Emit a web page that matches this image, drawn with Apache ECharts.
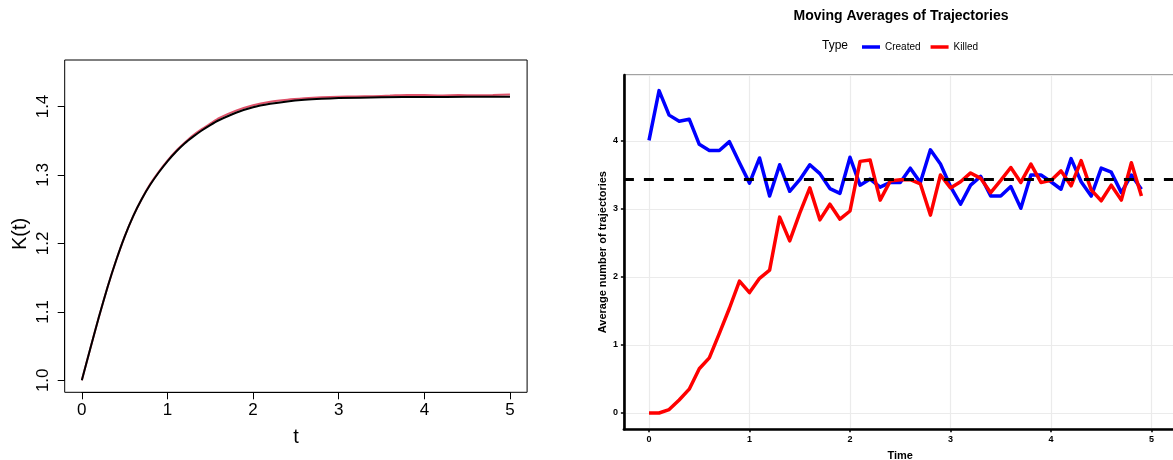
<!DOCTYPE html>
<html>
<head>
<meta charset="utf-8">
<script src="https://cdn.jsdelivr.net/npm/echarts@6/dist/echarts.min.js"></script>
<style>
html,body{margin:0;padding:0;background:#fff;}
#chart{width:1173px;height:460px;}
</style>
</head>
<body>
<div id="chart"></div>
<script>
// ---------- Left panel: K(t) ----------
const kTime = [0,0.1,0.2,0.3,0.4,0.5,0.6,0.7,0.8,0.9,1.0,1.1,1.2,1.3,1.4,1.5,1.6,1.8,2.0,2.2,2.4,2.6,2.8,3.0,3.5,4.0,4.5,5.0];
const kTheory = [1.000,1.047,1.093,1.136,1.175,1.210,1.240,1.265,1.286,1.304,1.320,1.334,1.346,1.356,1.365,1.373,1.380,1.391,1.399,1.404,1.4075,1.4098,1.4113,1.4123,1.4136,1.4140,1.4142,1.4142];
const kTimeEmp = [0,0.1,0.2,0.3,0.4,0.5,0.6,0.7,0.8,0.9,1.0,1.1,1.2,1.3,1.4,1.5,1.6,1.8,2.0,2.2,2.4,2.6,2.8,3.0,3.2,3.4,3.6,3.8,4.0,4.2,4.4,4.6,4.8,5.0];
const kEmpirical = [1.000,1.047,1.093,1.136,1.175,1.210,1.240,1.265,1.287,1.305,1.321,1.335,1.347,1.358,1.367,1.375,1.383,1.394,1.402,1.407,1.410,1.412,1.4135,1.4143,1.4148,1.4152,1.4160,1.4170,1.4168,1.4163,1.4167,1.4166,1.4170,1.4177];
const kXTicks = [0,1,2,3,4,5];
const kYTicks = [1.0,1.1,1.2,1.3,1.4];

// ---------- Right panel: moving averages ----------
const time = [0,0.1,0.2,0.3,0.4,0.5,0.6,0.7,0.8,0.9,1.0,1.1,1.2,1.3,1.4,1.5,1.6,1.7,1.8,1.9,2.0,2.1,2.2,2.3,2.4,2.5,2.6,2.7,2.8,2.9,3.0,3.1,3.2,3.3,3.4,3.5,3.6,3.7,3.8,3.9,4.0,4.1,4.2,4.3,4.4,4.5,4.6,4.7,4.8,4.9];
const created = [4.01,4.74,4.38,4.29,4.32,3.95,3.86,3.86,3.99,3.68,3.38,3.75,3.19,3.65,3.26,3.43,3.65,3.52,3.30,3.23,3.76,3.35,3.44,3.32,3.39,3.39,3.60,3.39,3.87,3.66,3.33,3.07,3.35,3.48,3.19,3.19,3.33,3.01,3.50,3.50,3.40,3.29,3.74,3.40,3.19,3.60,3.54,3.24,3.50,3.29];
const killed = [0.00,0.00,0.05,0.19,0.35,0.65,0.81,1.17,1.54,1.94,1.77,1.98,2.10,2.88,2.53,2.94,3.31,2.84,3.07,2.85,2.97,3.70,3.72,3.13,3.41,3.43,3.43,3.37,2.91,3.50,3.31,3.40,3.53,3.45,3.24,3.42,3.61,3.39,3.66,3.39,3.42,3.56,3.34,3.71,3.28,3.12,3.35,3.13,3.68,3.19];
const refLevel = 3.43;
const seriesNames = ['Created','Killed'];
const chartTitle = 'Moving Averages of Trajectories';

const FONT = '"Liberation Sans", Arial, Helvetica, sans-serif';
const zip = (xs, ys) => xs.map((x, i) => [x, ys[i]]);

const chart = echarts.init(document.getElementById('chart'), null, {renderer: 'canvas'});

const hiddenAxis = (gi, min, max) => ({gridIndex: gi, type: 'value', min, max, show: false});
const G = o => Object.assign({outerBoundsMode: 'none', containLabel: false}, o);

const option = {
  animation: false,
  textStyle: {fontFamily: FONT},
  grid: [
    G({left: 64.7, top: 60, width: 462.4, height: 332.3, show: true, borderColor: '#000', borderWidth: 1, backgroundColor: 'transparent'}),
    G({left: 81.8, top: 60, width: 428.2, height: 332.3}),
    G({left: 64.7, top: 106.5, width: 462.4, height: 273.8}),
    G({left: 623.9, top: 75, width: 552.7, height: 354.3, show: true, borderColor: '#444', borderWidth: 1, backgroundColor: 'transparent'}),
    G({left: 649, top: 75, width: 502.5, height: 354.3}),
    G({left: 623.9, top: 141, width: 552.7, height: 272})
  ],
  xAxis: [
    hiddenAxis(0, -0.2, 5.2),
    {gridIndex: 1, type: 'value', min: kXTicks[0], max: kXTicks[kXTicks.length - 1], interval: 1,
      axisLine: {show: true, onZero: false, lineStyle: {color: '#000', width: 1}},
      axisTick: {show: true, inside: false, length: 7, lineStyle: {color: '#000', width: 1}},
      axisLabel: {show: true, fontSize: 17, color: '#000', margin: 10},
      splitLine: {show: false}},
    hiddenAxis(2, -0.2, 5.2),
    {gridIndex: 3, type: 'value', min: -0.25, max: 5.25, minInterval: 1, maxInterval: 1,
      axisLine: {show: true, onZero: false, lineStyle: {color: '#000', width: 2.6}},
      axisTick: {show: false}, axisLabel: {show: false},
      splitLine: {show: true, lineStyle: {color: '#EBEBEB', width: 1.2}},
      name: 'Time', nameLocation: 'middle', nameGap: 21,
      nameTextStyle: {fontSize: 11, fontWeight: 'bold', color: '#000'}},
    {gridIndex: 4, type: 'value', min: 0, max: 5, interval: 1,
      axisLine: {show: false, onZero: false},
      axisTick: {show: true, length: 3, lineStyle: {color: '#000', width: 1.5}},
      axisLabel: {show: true, fontSize: 9, fontWeight: 'bold', color: '#000', margin: 6},
      splitLine: {show: false}},
    hiddenAxis(5, -0.25, 5.25)
  ],
  yAxis: [
    hiddenAxis(0, 0.9825, 1.468),
    hiddenAxis(1, 0.9825, 1.468),
    {gridIndex: 2, type: 'value', min: kYTicks[0], max: kYTicks[kYTicks.length - 1], interval: 0.1,
      axisLine: {show: true, onZero: false, lineStyle: {color: '#000', width: 1}},
      axisTick: {show: true, inside: false, length: 7, lineStyle: {color: '#000', width: 1}},
      axisLabel: {show: true, fontSize: 17, color: '#000', margin: 13, rotate: 90,
        formatter: v => Number(v).toFixed(1)},
      splitLine: {show: false}},
    {gridIndex: 3, type: 'value', min: -0.24, max: 4.97, minInterval: 1, maxInterval: 1,
      axisLine: {show: true, onZero: false, lineStyle: {color: '#000', width: 2.6}},
      axisTick: {show: false}, axisLabel: {show: false},
      splitLine: {show: true, lineStyle: {color: '#EBEBEB', width: 1.2}},
      name: 'Average number of trajectories', nameLocation: 'middle', nameGap: 15,
      nameTextStyle: {fontSize: 11, fontWeight: 'bold', color: '#000'}},
    hiddenAxis(4, -0.24, 4.97),
    {gridIndex: 5, type: 'value', min: 0, max: 4, interval: 1,
      axisLine: {show: false, onZero: false},
      axisTick: {show: true, length: 3, lineStyle: {color: '#000', width: 1.5}},
      axisLabel: {show: true, fontSize: 9, fontWeight: 'bold', color: '#000', margin: 6},
      splitLine: {show: false}}
  ],
  legend: {
    data: seriesNames, left: 857, top: 37, icon: 'rect', itemWidth: 18, itemHeight: 3.5,
    itemGap: 10, textStyle: {fontSize: 10, color: '#000', fontFamily: FONT}, selectedMode: false
  },
  graphic: [
    {type: 'text', x: 901, y: 16, style: {text: chartTitle, font: 'bold 14px ' + FONT, fill: '#000', align: 'center', verticalAlign: 'middle', textAlign: 'center', textVerticalAlign: 'middle'}},
    {type: 'text', x: 822, y: 46, style: {text: 'Type', font: '12px ' + FONT, fill: '#000', align: 'left', verticalAlign: 'middle', textAlign: 'left', textVerticalAlign: 'middle'}},
    {type: 'text', x: 20.6, y: 234, rotation: Math.PI / 2, style: {text: 'K(t)', font: '20px ' + FONT, fill: '#000', align: 'center', verticalAlign: 'middle', textAlign: 'center', textVerticalAlign: 'middle'}},
    {type: 'text', x: 296, y: 437, style: {text: 't', font: '20px ' + FONT, fill: '#000', align: 'center', verticalAlign: 'middle', textAlign: 'center', textVerticalAlign: 'middle'}}
  ],
  series: [
    {name: 'Empirical', type: 'line', xAxisIndex: 0, yAxisIndex: 0, data: zip(kTimeEmp, kEmpirical),
      showSymbol: false, symbol: 'none', smooth: 0.2, z: 2, color: '#DF536B', lineStyle: {color: '#DF536B', width: 2}},
    {name: 'Theory', type: 'line', xAxisIndex: 0, yAxisIndex: 0, data: zip(kTime, kTheory),
      showSymbol: false, symbol: 'none', smooth: 0.2, z: 3, color: '#000', lineStyle: {color: '#000', width: 2}},
    {name: seriesNames[0], type: 'line', xAxisIndex: 3, yAxisIndex: 3, data: zip(time, created),
      showSymbol: false, symbol: 'none', z: 2, color: '#0000FF', lineStyle: {color: '#0000FF', width: 3.5, join: 'round'}},
    {name: seriesNames[1], type: 'line', xAxisIndex: 3, yAxisIndex: 3, data: zip(time, killed),
      showSymbol: false, symbol: 'none', z: 3, color: '#FF0000', lineStyle: {color: '#FF0000', width: 3.5, join: 'round'},
      markLine: {silent: true, symbol: 'none', z: 5, label: {show: false},
        lineStyle: {color: '#000', width: 3, type: [10, 10]}, data: [{yAxis: refLevel}]}}
  ]
};
chart.setOption(option);
</script>
</body>
</html>
